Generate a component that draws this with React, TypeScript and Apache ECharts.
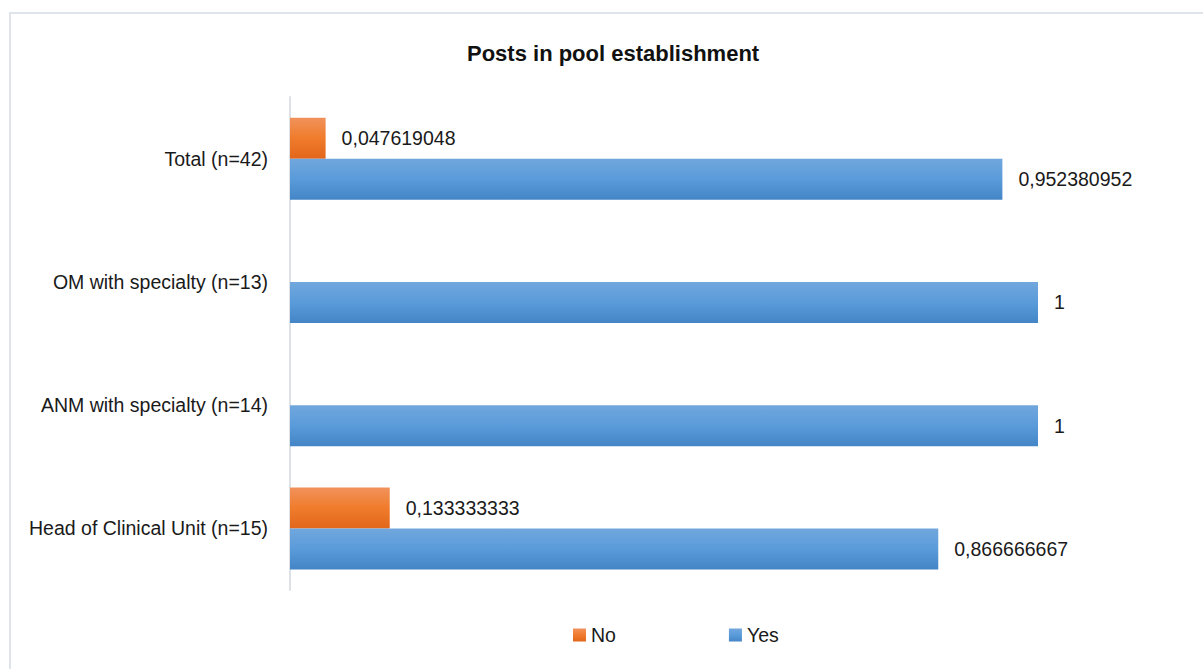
import React, { useEffect, useRef } from "react";
import * as echarts from "echarts";

const categories = [
  "Head of Clinical Unit (n=15)",
  "ANM with specialty (n=14)",
  "OM with specialty (n=13)",
  "Total (n=42)",
];
const noValues: (number | null)[] = [0.133333333, null, null, 0.047619048];
const yesValues: (number | null)[] = [0.866666667, 1, 1, 0.952380952];
const seriesNames = ["No", "Yes"];
const titleText = "Posts in pool establishment";

const FONT = "'Liberation Sans', Arial, sans-serif";

const orangeGrad = new echarts.graphic.LinearGradient(0, 0, 0, 1, [
  { offset: 0, color: "#F1925C" },
  { offset: 0.5, color: "#F07C2C" },
  { offset: 1, color: "#E2661B" },
]);
const blueGrad = new echarts.graphic.LinearGradient(0, 0, 0, 1, [
  { offset: 0, color: "#71A7DD" },
  { offset: 0.5, color: "#5A9BDA" },
  { offset: 1, color: "#4385C6" },
]);

const fmt = (v: any) => {
  const val = Array.isArray(v) ? v[0] : v;
  if (val === null || val === undefined || val === "-") return "";
  return String(val).replace(".", ",");
};

export default function App() {
  const ref = useRef<HTMLDivElement>(null);
  useEffect(() => {
    if (!ref.current) return;
    const chart = echarts.init(ref.current, null, { renderer: "svg" });
    const labelStyle = {
      show: true,
      position: "right" as const,
      distance: 16,
      fontFamily: FONT,
      fontSize: 19.5,
      color: "#1a1a1a",
      formatter: (p: any) => fmt(p.value),
    };
    chart.setOption({
      animation: false,
      backgroundColor: "#ffffff",
      title: {
        text: titleText,
        left: 467,
        top: 42,
        padding: 0,
        textStyle: { fontFamily: FONT, fontSize: 22, fontWeight: "bold", color: "#111111" },
      },
      graphic: [
        {
          type: "rect",
          shape: { x: 10, y: 13, width: 1210, height: 700 },
          style: { fill: "none", stroke: "#DFE3EA", lineWidth: 2 },
          silent: true,
        },
      ],
      legend: {
        data: seriesNames,
        left: 573,
        top: 625,
        padding: 0,
        itemWidth: 13,
        itemHeight: 13,
        itemGap: 113,
        icon: "rect",
        textStyle: { fontFamily: FONT, fontSize: 19.5, color: "#1a1a1a" },
      },
      grid: {
        left: 290,
        right: 165,
        top: 97,
        bottom: 79,
        containLabel: false,
        outerBoundsMode: "none",
      },
      xAxis: {
        type: "value",
        min: 0,
        max: 1,
        show: false,
      },
      yAxis: {
        type: "category",
        data: categories,
        axisLine: { show: true, lineStyle: { color: "#DDE1E8", width: 2 } },
        axisTick: { show: false },
        axisLabel: { margin: 22, fontFamily: FONT, fontSize: 19.5, color: "#1a1a1a" },
        splitLine: { show: false },
      },
      series: [
        {
          name: seriesNames[0],
          type: "bar",
          data: noValues,
          barWidth: 41,
          barGap: "0%",
          itemStyle: { color: orangeGrad },
          label: labelStyle,
        },
        {
          name: seriesNames[1],
          type: "bar",
          data: yesValues,
          barWidth: 41,
          barGap: "0%",
          itemStyle: { color: blueGrad },
          label: labelStyle,
        },
      ],
    });
    return () => chart.dispose();
  }, []);
  return (
    <div
      ref={ref}
      style={{ position: "fixed", left: 0, top: 0, width: 1203, height: 669, background: "#fff" }}
    />
  );
}
